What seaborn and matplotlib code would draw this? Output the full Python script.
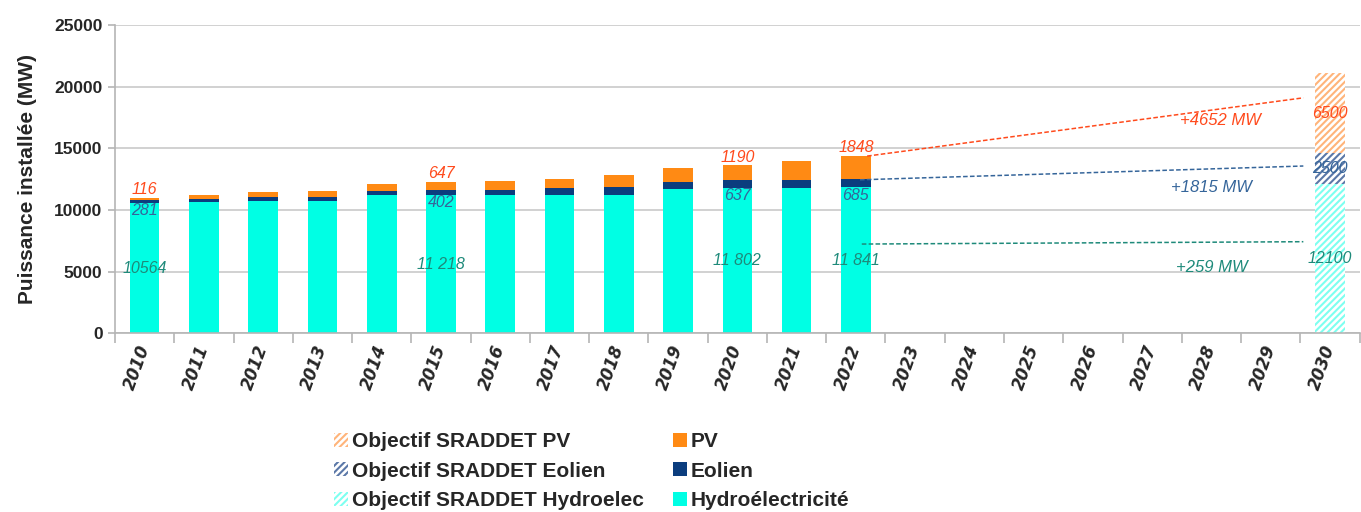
import numpy as np
import pandas as pd
import matplotlib
matplotlib.use('Agg')
import matplotlib.pyplot as plt
import seaborn as sns
from matplotlib.patches import Patch

# donnees (MW)
years = [str(y) for y in range(2010, 2031)]
hist_years = [str(y) for y in range(2010, 2023)]
hydro = [10564, 10620, 10700, 10730, 11190, 11218, 11210, 11240, 11240, 11680, 11802, 11810, 11841]
eolien = [281, 270, 350, 320, 350, 402, 410, 570, 600, 590, 637, 620, 685]
pv = [116, 330, 410, 490, 600, 647, 760, 730, 970, 1110, 1190, 1570, 1848]

obj_years = ['2030']
obj_hydro = [12100]
obj_eolien = [2500]
obj_pv = [6500]

labelled_years = ['2010', '2015', '2020', '2022']
hydro_text = ['10564', '11 218', '11 802', '11 841']

trend_text = ['+4652 MW', '+1815 MW', '+259 MW']
trend_start = [14374, 12450, 7240]
trend_end = [19100, 13570, 7430]

C_HYDRO = '#00ffe4'
C_EOL = '#0b3d7e'
C_PV = '#ff8a14'
H_HYDRO = '#7dfff0'
H_EOL = '#5b78a8'
H_PV = '#ffb47a'
T_PV = '#ff4a1c'
T_EOL = '#35659a'
T_HYDRO = '#1e8a7a'
HATCH = '/////'

sns.set_theme(style='white')
plt.rcParams['font.family'] = ['Liberation Sans', 'DejaVu Sans']
plt.rcParams['hatch.linewidth'] = 1.5

df = pd.DataFrame({'annee': hist_years, 'hydro': hydro, 'eolien': eolien, 'pv': pv})
df['he'] = df['hydro'] + df['eolien']
df['total'] = df['he'] + df['pv']

dfo = pd.DataFrame({'annee': obj_years, 'hydro': obj_hydro, 'eolien': obj_eolien, 'pv': obj_pv})
dfo['he'] = dfo['hydro'] + dfo['eolien']
dfo['total'] = dfo['he'] + dfo['pv']

fig = plt.figure(figsize=(13.61, 5.12), dpi=100)
ax = fig.add_axes([0.0845, 0.349, 0.9145, 0.602])
ax.set_axisbelow(True)

common = dict(order=years, width=0.5, saturation=1, ax=ax, linewidth=0, errorbar=None)
sns.barplot(data=df, x='annee', y='total', color=C_PV, **common)
sns.barplot(data=df, x='annee', y='he', color=C_EOL, **common)
sns.barplot(data=df, x='annee', y='hydro', color=C_HYDRO, **common)

sns.barplot(data=dfo, x='annee', y='total', color='white', edgecolor=H_PV, hatch=HATCH, **common)
sns.barplot(data=dfo, x='annee', y='he', color='white', edgecolor=H_EOL, hatch=HATCH, **common)
sns.barplot(data=dfo, x='annee', y='hydro', color='white', edgecolor=H_HYDRO, hatch=HATCH, **common)

# tendances vers 2030
i22 = years.index('2022')
colors_tr = [T_PV, T_EOL, T_HYDRO]
x0 = [i22 + 0.19, i22 + 0.07, i22 + 0.1]
for k in range(3):
    ax.plot([x0[k], 19.55], [trend_start[k], trend_end[k]], ls=(0, (3, 1.5)),
            lw=1.1, color=colors_tr[k], zorder=4)
tr_font = dict(fontsize=12, style='italic', ha='center', va='center')
ax.text(18.15, 17300, trend_text[0], color=T_PV, **tr_font)
ax.text(18.0, 11800, trend_text[1], color=T_EOL, **tr_font)
ax.text(18.0, 5300, trend_text[2], color=T_HYDRO, **tr_font)

# etiquettes de valeurs
lab_font = dict(fontsize=11.5, style='italic', ha='center')
for y, ht in zip(labelled_years, hydro_text):
    i = hist_years.index(y)
    xi = years.index(y)
    ax.text(xi, df['total'][i] + 60, str(pv[i]), color=T_PV, va='bottom', **lab_font)
    ax.text(xi, df['hydro'][i] - 30, str(eolien[i]), color=T_EOL, va='top', **lab_font)
    ax.text(xi, df['hydro'][i] / 2, ht, color=T_HYDRO, va='center', **lab_font)

xo = years.index('2030')
ax.text(xo, (dfo['he'][0] + dfo['total'][0]) / 2, str(obj_pv[0]), color=T_PV, va='center', **lab_font)
ax.text(xo, (dfo['hydro'][0] + dfo['he'][0]) / 2, str(obj_eolien[0]), color=T_EOL, va='center', **lab_font)
ax.text(xo, dfo['hydro'][0] / 2, str(obj_hydro[0]), color=T_HYDRO, va='center', **lab_font)

# axes
ax.set_xlim(-0.5, len(years) - 0.5)
ax.set_ylim(0, 25000)
ax.set_yticks(range(0, 25001, 5000))
ax.yaxis.grid(True, color='#c9c9c9', lw=1.2)
ax.set_xlabel('')
ax.set_ylabel('Puissance installée (MW)', fontsize=15, fontweight='bold', labelpad=12)
for s in ['top', 'right']:
    ax.spines[s].set_visible(False)
for s in ['left', 'bottom']:
    ax.spines[s].set_color('#b5b5b5')
    ax.spines[s].set_linewidth(1.2)

ax.set_xticks(np.arange(-0.5, len(years), 1), minor=True)
ax.tick_params(axis='x', which='minor', length=7, color='#b5b5b5', width=1.2, bottom=True)
ax.tick_params(axis='x', which='major', length=0, pad=9)
ax.tick_params(axis='y', length=5, color='#b5b5b5', width=1.2, left=True, pad=4)
ax.set_xticks(range(len(years)))
ax.set_xticklabels(years, rotation=70, ha='right', va='center', rotation_mode='anchor',
                   fontsize=12, fontweight='bold', style='italic', family='DejaVu Sans')
for lab in ax.get_yticklabels():
    lab.set_fontsize(12.5)
    lab.set_fontweight('bold')

handles = [
    Patch(facecolor='white', edgecolor=H_PV, hatch=HATCH, linewidth=0),
    Patch(facecolor='white', edgecolor=H_EOL, hatch=HATCH, linewidth=0),
    Patch(facecolor='white', edgecolor=H_HYDRO, hatch=HATCH, linewidth=0),
    Patch(facecolor=C_PV, linewidth=0),
    Patch(facecolor=C_EOL, linewidth=0),
    Patch(facecolor=C_HYDRO, linewidth=0),
]
labels = ['Objectif SRADDET PV', 'Objectif SRADDET Eolien', 'Objectif SRADDET Hydroelec',
          'PV', 'Eolien', 'Hydroélectricité']
fig.legend(handles, labels, loc='center', bbox_to_anchor=(0.435, 0.080), ncol=2,
           frameon=False, prop={'weight': 'bold', 'size': 15}, handlelength=0.65,
           handleheight=0.65, handletextpad=0.2, labelspacing=0.5, columnspacing=1.4)

fig.savefig('out.png', dpi=100)
